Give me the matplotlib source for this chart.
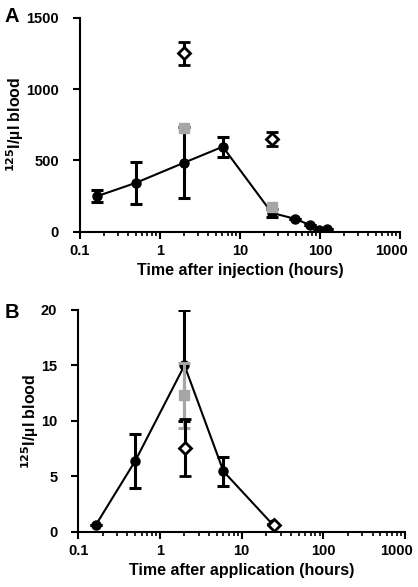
import numpy as np
import matplotlib
matplotlib.use("Agg")
import matplotlib.pyplot as plt
import matplotlib.transforms as mtransforms
from matplotlib.ticker import LogLocator, NullFormatter

plt.rcParams['font.family'] = ['Liberation Sans', 'DejaVu Sans']
plt.rcParams['font.weight'] = 'bold'

# Panel A: injection
a_time = [0.165, 0.5, 2.0, 6.1, 25, 49, 74, 98, 123]
a_val = [250, 343, 484, 596, 133, 91, 49, 16, 19]
a_err = [40, 145, 250, 70, 30, 0, 0, 0, 0]
a_sq_time = [2.0, 25]
a_sq_val = [729, 175]
a_dia_time = [2.0, 25]
a_dia_val = [1250, 652]
a_dia_err = [80, 50]

# Panel B: application
b_time = [0.164, 0.5, 2.0, 6.0, 24]
b_val = [0.6, 6.4, 15.0, 5.45, 0.66]
b_err = [0, 2.45, 5.0, 1.3, 0]
b_sq_time = [2.0]
b_sq_val = [12.3]
b_sq_err = [2.9]
b_dia_time = [2.05, 25]
b_dia_val = [7.6, 0.65]
b_dia_err = [2.6, 0]

xticks = [0.1, 1, 10, 100, 1000]
xticklabels = ['0.1', '1', '10', '100', '1000']


def style_axes(ax, yticks, xlabel):
    ax.set_xscale('log')
    ax.set_xlim(0.1, 1000)
    ax.set_xticks(xticks)
    ax.set_xticklabels(xticklabels)
    ax.xaxis.set_minor_locator(LogLocator(base=10, subs=np.arange(2, 10)))
    ax.xaxis.set_minor_formatter(NullFormatter())
    ax.set_yticks(yticks)
    ax.set_ylim(yticks[0], yticks[-1])
    for s in ['top', 'right']:
        ax.spines[s].set_visible(False)
    for s in ['left', 'bottom']:
        ax.spines[s].set_linewidth(1.5)
    ax.tick_params(axis='both', which='major', length=5, width=1.5, labelsize=10.5, direction='out')
    ax.tick_params(axis='y', which='major', pad=10)
    ax.tick_params(axis='x', which='minor', length=3, width=1.2, direction='out')
    ax.set_xlabel(xlabel, fontsize=11.5, fontweight='bold', labelpad=4)
    ax.set_ylabel(r'$^{\mathbf{125}}$I/µl blood', fontsize=11.5, fontweight='bold', labelpad=0)
    for lab in ax.get_xticklabels() + ax.get_yticklabels():
        lab.set_fontweight('bold')
    # keep the last label inside the figure
    last = ax.get_xticklabels()[-1]
    last.set_transform(last.get_transform() +
                       mtransforms.ScaledTranslation(-6 / 72, 0, ax.figure.dpi_scale_trans))


fig = plt.figure(figsize=(4.18, 5.87), dpi=100)

# ---- A ----
axA = fig.add_axes([0.191, 0.605, 0.766, 0.365])
axA.errorbar(a_time, a_val, yerr=a_err, fmt='-o', color='black', markersize=6.5,
             linewidth=1.5, elinewidth=2.2, capsize=4, capthick=2.2, zorder=3)
axA.plot(a_sq_time, a_sq_val, 's', color='#a6a6a6', markersize=7.5, zorder=8)
axA.errorbar(a_dia_time, a_dia_val, yerr=a_dia_err, fmt='D', color='black', mfc='white',
             mew=2, markersize=6.5, elinewidth=2.2, capsize=4, capthick=2.2, zorder=9)
style_axes(axA, [0, 500, 1000, 1500], 'Time after injection (hours)')
fig.text(0.01, 0.9625, 'A', fontsize=14.5, fontweight='bold')

# ---- B ----
axB = fig.add_axes([0.187, 0.094, 0.782, 0.378])
axB.errorbar(b_sq_time, b_sq_val, yerr=b_sq_err, fmt='s', color='#a6a6a6', markersize=7,
             elinewidth=2.2, capsize=4, capthick=2.2, zorder=3)
axB.errorbar(b_time, b_val, yerr=b_err, fmt='-o', color='black', markersize=6.5,
             linewidth=1.5, elinewidth=2.2, capsize=4, capthick=2.2, zorder=2)
axB.errorbar(b_dia_time, b_dia_val, yerr=b_dia_err, fmt='D', color='black', mfc='white',
             mew=2, markersize=6.5, elinewidth=2.2, capsize=4, capthick=2.2, zorder=5)
style_axes(axB, [0, 5, 10, 15, 20], 'Time after application (hours)')
fig.text(0.01, 0.458, 'B', fontsize=14.5, fontweight='bold')

fig.savefig('out.png', dpi=100)
